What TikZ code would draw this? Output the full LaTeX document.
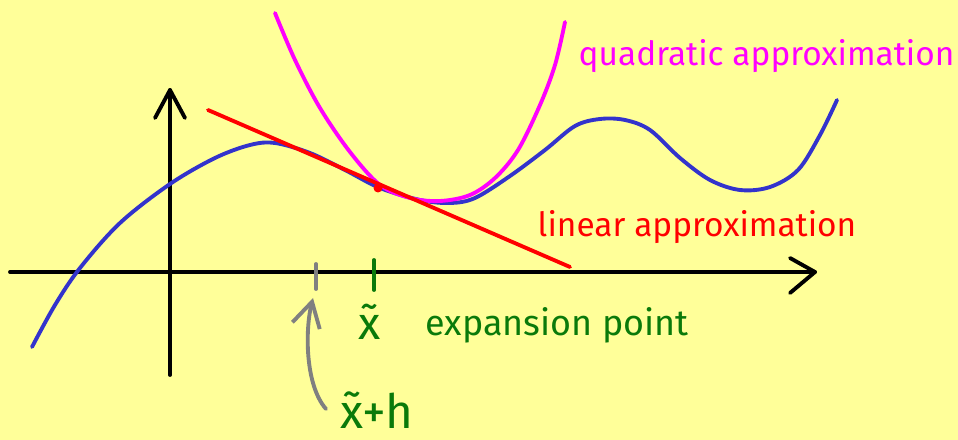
\documentclass[tikz,border=0pt]{standalone}
\usepackage{fontspec}
\setmainfont{Fira Sans}
\usetikzlibrary{arrows.meta}
\definecolor{bg}{HTML}{FFFF99}
\definecolor{curveblue}{HTML}{3333CC}
\definecolor{dgreen}{HTML}{0A7A0A}
\definecolor{magen}{HTML}{FF00FF}
\begin{document}
\begin{tikzpicture}[x=0.01cm,y=-0.01cm,line cap=round,line join=round,
  axis/.style={black,line width=1.1pt},
  lbl/.style={font=\fontsize{9.5}{11}\selectfont,inner sep=0pt,anchor=west}]
\fill[bg] (0,0) rectangle (958,440);
\useasboundingbox (0,0) rectangle (958,440);
% axes
\coordinate (xs) at (10,272);
\coordinate (xe) at (815,272);
\coordinate (ys) at (170,375);
\coordinate (ye) at (170,90);
\draw[axis] (xs) -- (xe);
\draw[axis] (790,258) -- (xe) -- (790,293);
\draw[axis] (ys) -- (ye);
\draw[axis] (155,118) -- (ye) -- (185,118);
% blue function
\draw[curveblue,line width=1.1pt] plot[smooth,tension=0.55] coordinates {
 (32,347) (55,305) (80,268) (120,223) (170,184) (215,158) (250,145) (275,143)
 (310,153) (345,170) (380,188) (420,200) (450,203) (475,198) (510,176)
 (545,150) (575,126) (600,119) (625,120) (650,130) (680,158) (710,180)
 (740,190) (770,187) (798,170) (820,135) (837,100)};
% quadratic
\draw[magen,line width=1.1pt] plot[smooth,tension=0.55] coordinates {
 (275,13) (295,60) (320,108) (350,152) (380,185) (410,198) (440,201)
 (470,195) (495,178) (518,150) (540,105) (555,65) (565,22)};
% linear
\draw[red,line width=1.1pt] (208,110) -- (570,267);
\fill[red] (378,188) circle (4.5);
% ticks
\coordinate (xt) at (374,272);
\coordinate (ht) at (316,272);
\draw[dgreen,line width=1.1pt] (374,260) -- (374,290);
\draw[gray,line width=1.1pt] (316,264) -- (316,289);
% labels
\node[lbl,dgreen,font=\fontsize{13}{15}\selectfont] (xl) at (358,322) {\~x};
\node[lbl,dgreen,font=\fontsize{10.2}{12}\selectfont] (ep) at (425,325) {expansion point};
\node[lbl,dgreen,font=\fontsize{13.5}{15}\selectfont] (hl) at (340,410) {\~x+h};
\node[lbl,red] (la) at (537,227) {linear approximation};
\node[lbl,magen] (qa) at (578,56) {quadratic approximation};
% arrow
\coordinate (hs) at (326,409);
\draw[gray,line width=1.1pt,-{Straight Barb[length=7pt,width=8pt]}] (hs) .. controls (305,385) and (305,330) .. (313,298);
\end{tikzpicture}
\end{document}
